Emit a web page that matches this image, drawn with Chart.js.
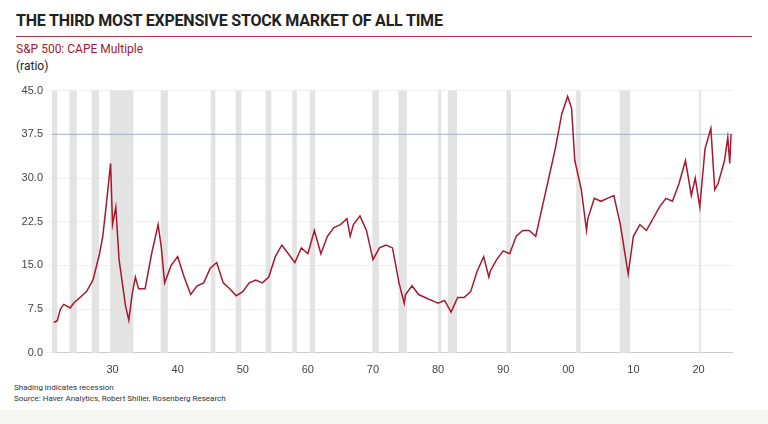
<!DOCTYPE html>
<html>
<head>
<meta charset="utf-8">
<script src="https://cdn.jsdelivr.net/npm/chart.js@4"></script>
<style>
body { margin: 0; width: 768px; height: 424px; background: #fff; font-family: Roboto, "Liberation Sans", sans-serif; position: relative; overflow: hidden; }
#title { position: absolute; left: 16px; top: 11px; font-size: 16px; font-weight: bold; color: #222; letter-spacing: -0.2px; }
#rule { position: absolute; left: 16px; top: 36px; width: 736px; height: 1px; background: #b03a48; }
#sub { position: absolute; left: 16px; top: 42px; font-size: 12px; color: #a6192e; }
#unit { position: absolute; left: 16px; top: 59px; font-size: 12px; color: #222; }
#foot { position: absolute; left: 14px; top: 382px; font-size: 8px; color: #333; line-height: 11px; }
#band { position: absolute; left: 0; top: 410px; width: 768px; height: 14px; background: #f6f7f3; }
#wrap { position: absolute; left: 0; top: 81px; width: 733px; height: 299px; }
</style>
</head>
<body>
<div id="title">THE THIRD MOST EXPENSIVE STOCK MARKET OF ALL TIME</div>
<div id="rule"></div>
<div id="sub">S&amp;P 500: CAPE Multiple</div>
<div id="unit">(ratio)</div>
<div id="foot">Shading indicates recession<br>Source: Haver Analytics, Robert Shiller, Rosenberg Research</div>
<div id="band"></div>
<div id="wrap"><canvas id="c"></canvas></div>
<script>
// CAPE multiple (year, ratio)
const years = [1921, 1921.5, 1922, 1922.5, 1923, 1923.5, 1924, 1925, 1926, 1927, 1928, 1928.5, 1929, 1929.7, 1930, 1930.5, 1931, 1932, 1932.5, 1933, 1933.5, 1934, 1935, 1936, 1937, 1937.5, 1938, 1939, 1940, 1941, 1942, 1943, 1944, 1945, 1946, 1947, 1948, 1949, 1950, 1951, 1952, 1953, 1954, 1955, 1956, 1957, 1958, 1959, 1960, 1961, 1962, 1963, 1964, 1965, 1966, 1966.5, 1967, 1968, 1969, 1970, 1971, 1972, 1973, 1974, 1974.8, 1975, 1976, 1977, 1978, 1979, 1980, 1981, 1982, 1983, 1984, 1985, 1986, 1987, 1987.8, 1988, 1989, 1990, 1991, 1992, 1993, 1994, 1995, 1996, 1997, 1998, 1999, 1999.9, 2000.5, 2001, 2002, 2002.8, 2003, 2004, 2005, 2006, 2007, 2008, 2009.2, 2010, 2011, 2012, 2013, 2014, 2015, 2016, 2017, 2018, 2018.9, 2019.5, 2020.2, 2021, 2021.9, 2022.5, 2023, 2024, 2024.5, 2024.8, 2025]
const cape = [5.2, 5.5, 7.5, 8.3, 8.0, 7.7, 8.5, 9.5, 10.5, 12.5, 17, 20, 25, 32.5, 22, 25, 16, 8, 5.6, 10, 13, 11, 11, 17, 22, 18, 12, 15, 16.5, 13, 10, 11.5, 12, 14.5, 15.5, 12, 11, 9.8, 10.5, 12, 12.5, 12, 13, 16.5, 18.5, 17, 15.5, 18, 17, 21, 17, 20, 21.5, 22, 23, 20, 22, 23.5, 21, 16, 18, 18.5, 18, 12, 8.5, 10, 11.5, 10, 9.5, 9, 8.5, 9, 7, 9.5, 9.5, 10.5, 14, 16.5, 13, 14, 16, 17.5, 17, 20, 21, 21, 20, 25, 30, 35, 41, 44, 42, 33, 28, 21, 23, 26.5, 26, 26.5, 27, 22, 13.5, 20, 22, 21, 23, 25, 26.5, 26, 29, 33, 27, 30, 25, 35, 38.5, 28, 29, 33, 37, 32.5, 37.5]
// NBER recessions [start, end]
const recStart = [1920.0, 1923.4, 1926.8, 1929.6, 1937.4, 1945.1, 1948.9, 1953.5, 1957.6, 1960.3, 1969.9, 1973.9, 1980.0, 1981.5, 1990.5, 2001.2, 2007.9, 2020.1]
const recEnd = [1921.5, 1924.5, 1927.9, 1933.2, 1938.5, 1945.8, 1949.8, 1954.4, 1958.3, 1961.1, 1970.9, 1975.2, 1980.5, 1982.9, 1991.2, 2001.9, 2009.5, 2020.4]
const refLevel = 37.5

const recessions = {
    id: 'recessions',
    beforeDatasetsDraw(chart) {
        const {ctx, chartArea, scales} = chart
        ctx.save()
        ctx.fillStyle = '#e3e3e3'
        recStart.forEach(function (s, i) {
            const x0 = Math.max(scales.x.getPixelForValue(s), chartArea.left)
            const x1 = scales.x.getPixelForValue(recEnd[i])
            ctx.fillRect(x0, chartArea.top, x1 - x0, chartArea.bottom - chartArea.top)
        })
        const y = scales.y.getPixelForValue(refLevel)
        ctx.strokeStyle = '#9fb3cc'
        ctx.lineWidth = 1
        ctx.beginPath()
        ctx.moveTo(chartArea.left, y)
        ctx.lineTo(chartArea.right, y)
        ctx.stroke()
        ctx.restore()
    }
}

new Chart(document.getElementById('c'), {
    type: 'line',
    data: {
        datasets: [{
            data: years.map(function (y, i) { return {x: y, y: cape[i]} }),
            borderColor: '#a6192e',
            borderWidth: 1.5,
            pointRadius: 0,
            tension: 0
        }]
    },
    options: {
        responsive: true,
        maintainAspectRatio: false,
        animation: false,
        plugins: {legend: {display: false}, tooltip: {enabled: false}},
        scales: {
            x: {
                type: 'linear', min: 1920.7, max: 2025.3,
                afterBuildTicks(axis) {
                    axis.ticks = [1930, 1940, 1950, 1960, 1970, 1980, 1990, 2000, 2010, 2020].map(function (v) { return {value: v} })
                },
                ticks: {
                    color: '#444', font: {size: 11},
                    callback: function (v) { return String(v % 100).padStart(2, '0') }
                },
                grid: {display: false},
                border: {color: '#ccc'}
            },
            y: {
                min: 0, max: 45,
                afterFit(axis) { axis.width = 52 },
                ticks: {stepSize: 7.5, color: '#444', font: {size: 11}, callback: function (v) { return v.toFixed(1) }},
                grid: {color: '#efefef', drawTicks: true, tickLength: 6},
                border: {display: false}
            }
        }
    },
    plugins: [recessions]
})
</script>
</body>
</html>
